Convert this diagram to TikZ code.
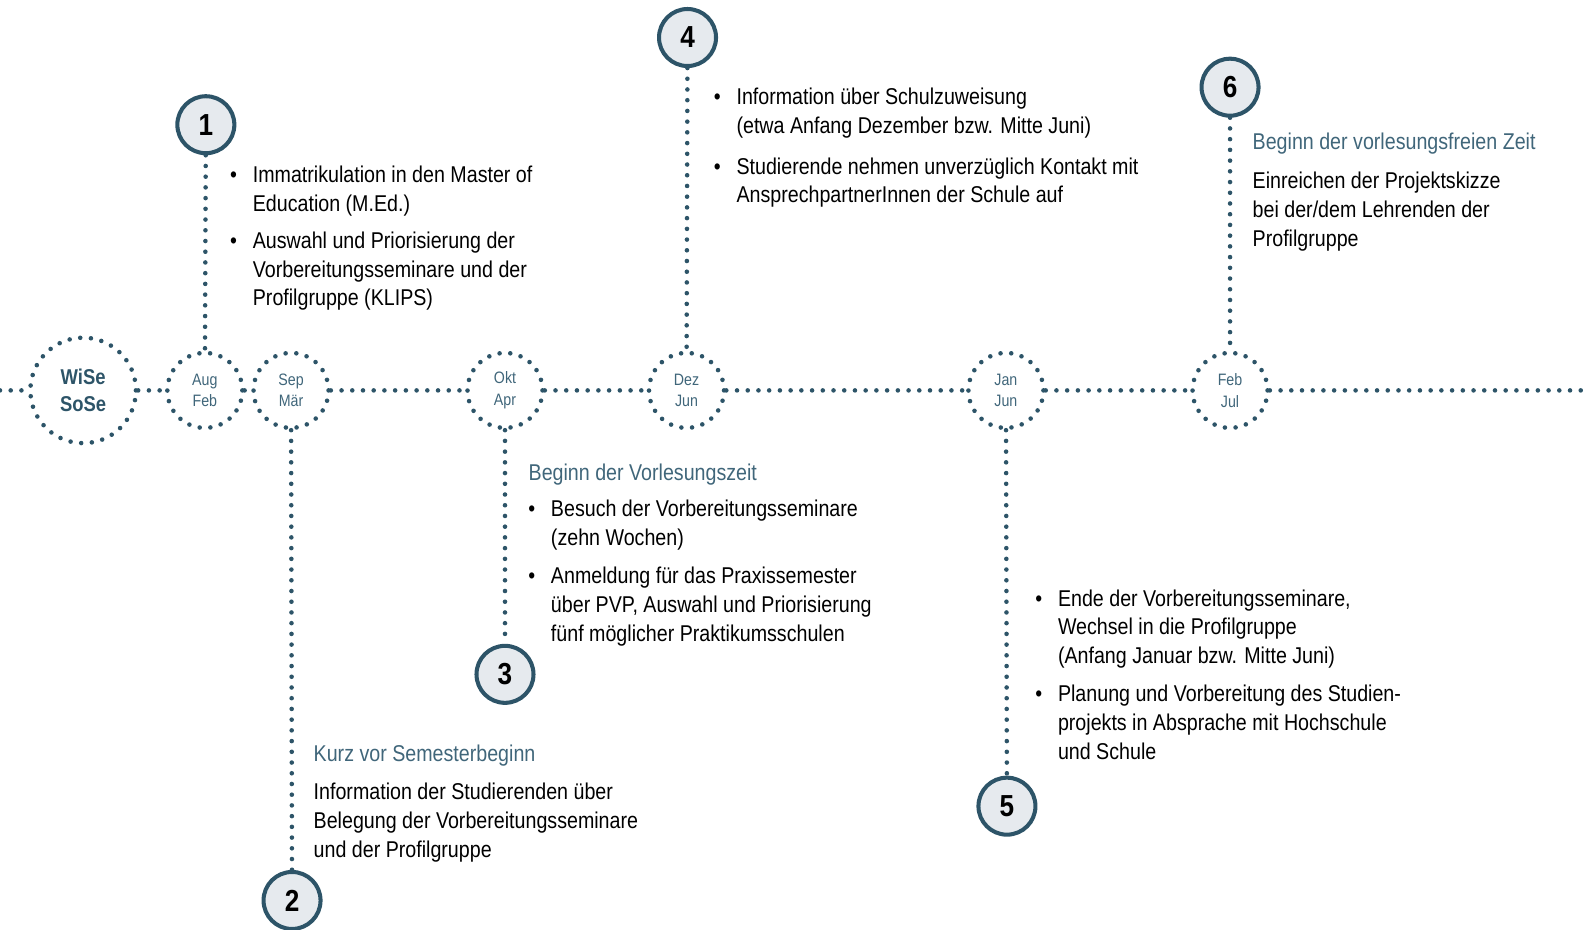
\documentclass[tikz,border=0pt]{standalone}
\usepackage{fontspec}
\setmainfont[FakeStretch=0.86]{Liberation Sans}
\definecolor{dg}{RGB}{45,84,104}
\definecolor{mg}{RGB}{64,102,122}
\definecolor{lg}{RGB}{230,234,238}
\newcommand{\bul}{\llap{\textbullet\hspace{9pt}}}
\tikzset{
    dotline/.style =  {draw=dg,
                      line width=2.6pt,
                      line cap=round,
                      dash pattern=on 0pt off 6.1pt},
    month/.style =    {circle,
                      dotline,
                      text=mg,
                      align=center,
                      inner sep=0pt,
                      minimum size=1.5cm,
                      font=\fontsize{9.4}{12.2}\selectfont},
    term/.style =     {month,
                      text=dg,
                      minimum size=2.11cm,
                      font=\fontsize{12.2}{15.6}\selectfont\bfseries},
    num/.style =      {circle,
                      fill=lg,
                      draw=dg,
                      text=black,
                      line width=2.3pt,
                      inner sep=0pt,
                      minimum size=1.14cm,
                      font=\fontsize{17.3}{20}\selectfont\bfseries},
    txt/.style =      {anchor=north west,
                      inner sep=0pt,
                      align=left,
                      text=black,
                      font=\fontsize{13}{16.45}\selectfont},
    headline/.style = {txt,
                      text=mg}}

\begin{document}
\begin{tikzpicture}[x=0.02028cm,y=-0.02028cm]
    \useasboundingbox (0,0) rectangle (1566,917);
    % timeline
    \coordinate (tl0) at (0,385);
    \coordinate (tl1) at (1566,385);
    \node[term]  (wise) at (82,385)   {WiSe\\SoSe};
    \node[month] (aug)  at (202,385)  {Aug\\Feb};
    \node[month] (sep)  at (287,385)  {Sep\\Mär};
    \node[month] (okt)  at (498,385)  {Okt\\Apr};
    \node[month] (dez)  at (677,385)  {Dez\\Jun};
    \node[month] (jan)  at (992,385)  {Jan\\Jun};
    \node[month] (feb)  at (1213,385) {Feb\\Jul};
    % steps
    \node[num] (n1) at (203,123) {1};
    \node[num] (n2) at (288,888) {2};
    \node[num] (n3) at (498,665) {3};
    \node[num] (n4) at (678,37)  {4};
    \node[num] (n5) at (993,795) {5};
    \node[num] (n6) at (1213,86) {6};
    \path [dotline] (tl0) edge (wise)
                    (wise) edge (aug)
                    (aug) edge (sep)
                    (sep) edge (okt)
                    (okt) edge (dez)
                    (dez) edge (jan)
                    (jan) edge (feb)
                    (feb) edge (tl1)
                    (n1) edge (aug)
                    (sep) edge (n2)
                    (okt) edge (n3)
                    (n4) edge (dez)
                    (jan) edge (n5)
                    (n6) edge (feb);
    % texts
    \node[txt] (t1a) at (249,163) {\bul Immatrikulation in den Master of\\Education (M.Ed.)};
    \node[txt] (t1b) at (249,228) {\bul Auswahl und Priorisierung der\\Vorbereitungsseminare und der\\Profilgruppe (KLIPS)};
    \node[headline] (h2) at (309,734) {Kurz vor Semesterbeginn};
    \node[txt] (t2) at (309,772) {Information der Studierenden über\\Belegung der Vorbereitungsseminare\\und der Profilgruppe};
    \node[headline] (h3) at (521,457) {Beginn der Vorlesungszeit};
    \node[txt] (t3a) at (543,493) {\bul Besuch der Vorbereitungsseminare\\(zehn Wochen)};
    \node[txt] (t3b) at (543,559) {\bul Anmeldung für das Praxissemester\\über PVP, Auswahl und Priorisierung\\fünf möglicher Praktikumsschulen};
    \node[txt] (t4a) at (726,86) {\bul Information über Schulzuweisung\\(etwa Anfang Dezember bzw. Mitte Juni)};
    \node[txt] (t4b) at (726,155) {\bul Studierende nehmen unverzüglich Kontakt mit\\AnsprechpartnerInnen der Schule auf};
    \node[txt] (t5a) at (1043,581) {\bul Ende der Vorbereitungsseminare,\\Wechsel in die Profilgruppe\\(Anfang Januar bzw. Mitte Juni)};
    \node[txt] (t5b) at (1043,675) {\bul Planung und Vorbereitung des Studien-\\projekts in Absprache mit Hochschule\\und Schule};
    \node[headline] (h6) at (1235,131) {Beginn der vorlesungsfreien Zeit};
    \node[txt] (t6) at (1235,169) {Einreichen der Projektskizze\\bei der/dem Lehrenden der\\Profilgruppe};
\end{tikzpicture}
\end{document}
